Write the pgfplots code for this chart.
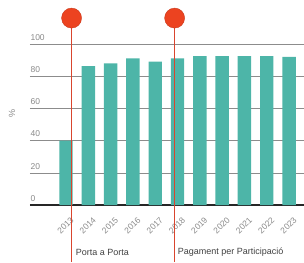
\documentclass[border=0pt]{standalone}
\usepackage{pgfplots}
\pgfplotsset{compat=1.18}
\usepackage{fontspec}
\setmainfont{Liberation Sans}
\definecolor{barteal}{HTML}{4DB5A8}
\definecolor{redline}{HTML}{D9452E}
\definecolor{reddot}{HTML}{EC4320}
\definecolor{ticktxt}{HTML}{8A8A8A}
\definecolor{gridc}{HTML}{8C8C8C}
\begin{document}
\begin{tikzpicture}
\useasboundingbox (-30pt,-57pt) rectangle (274pt,205pt);
\begin{axis}[
  at={(0,0)}, anchor=south west,
  scale only axis, width=274pt, height=161pt,
  xmin=-1.614, xmax=10.67, ymin=0, ymax=100,
  clip=false,
  axis x line*=bottom, axis y line*=left,
  y axis line style={draw=none},
  x axis line style={draw=black!85, line width=1.1pt, -},
  major tick length=0pt,
  ytick={0,20,40,60,80,100},
  ymajorgrids, grid style={gridc, line width=0.6pt},
  xtick={0,...,10},
  xticklabels={2013,2014,2015,2016,2017,2018,2019,2020,2021,2022,2023},
  /pgf/number format/assume math mode=true,
  ticklabel style={font=\fontsize{8.5}{10}\selectfont, text=ticktxt},
  yticklabel style={anchor=south west, xshift=-3pt, yshift=0pt},
  xticklabel style={anchor=east, inner sep=1pt, xshift=7pt, yshift=-13pt, rotate=45},
  ylabel={\%}, ylabel style={at={(axis description cs:-0.066,0.57)}, anchor=center, font=\fontsize{9}{10}\selectfont, text=ticktxt},
  ybar, bar width=13.4pt,
]
\addplot[fill=barteal, draw=none] coordinates {
  (0,40) (1,86.3) (2,88) (3,91) (4,89) (5,91) (6,92.5) (7,92.5) (8,92.5) (9,92.5) (10,92)
};
\addplot[sharp plot, redline, line width=1.1pt, forget plot] coordinates {(0.25,-35.4) (0.25,116)};
\addplot[sharp plot, redline, line width=1.1pt, forget plot] coordinates {(4.87,-35.4) (4.87,116)};
\addplot[only marks, mark=*, mark size=10pt, mark options={fill=reddot, draw=reddot!85!black, line width=0.4pt}, forget plot] coordinates {(0.25,116.1) (4.87,116.1)};
\node[anchor=west, font=\fontsize{9}{10}\selectfont, text=black!75, inner sep=0pt] at (axis cs:0.25,-29.5) {\hspace{4pt}Porta a Porta};
\node[anchor=west, font=\fontsize{9}{10}\selectfont, text=black!75, inner sep=0pt] at (axis cs:4.87,-29.5) {\hspace{3pt}Pagament per Participació};
\end{axis}
\end{tikzpicture}
\end{document}
